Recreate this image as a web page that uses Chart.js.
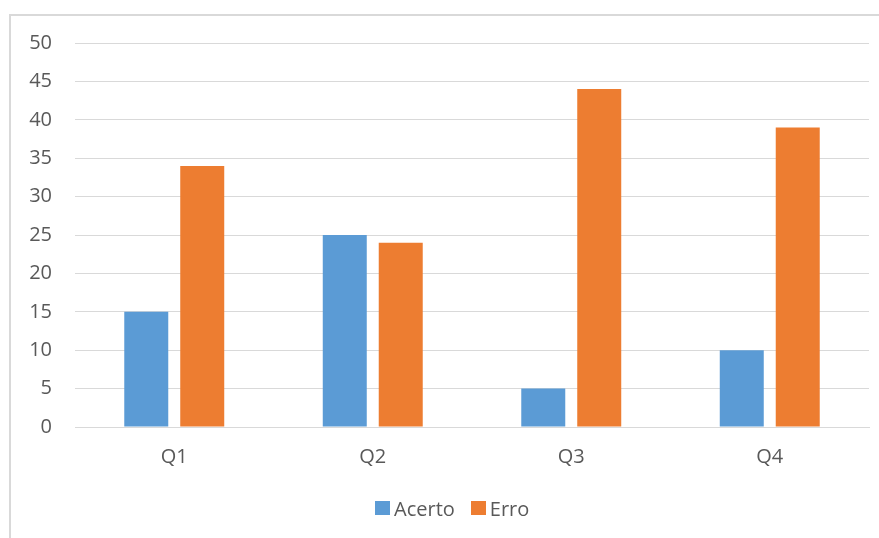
<!DOCTYPE html>
<html>
<head>
<meta charset="utf-8">
<script src="https://cdn.jsdelivr.net/npm/chart.js@4/dist/chart.umd.min.js"></script>
<style>
  html, body { margin: 0; padding: 0; background: #fff; }
  #wrap { position: relative; width: 879px; height: 538px; overflow: hidden; }
  #moldura {
    position: absolute; left: 9px; top: 14px; width: 900px; height: 600px;
    border-left: 2px solid #d9d9d9; border-top: 2px solid #d9d9d9;
  }
  canvas { position: absolute; left: 0; top: 0; }
  #legenda {
    position: absolute; left: 375px; top: 496px; height: 24px;
    display: flex; align-items: center;
    font-family: 'Open Sans', 'DejaVu Sans', sans-serif; font-size: 20px; color: #595959;
  }
  #legenda span.item { display: flex; align-items: center; margin-right: 16px; }
  #legenda span.caixa { display: inline-block; width: 15px; height: 14px; margin-right: 4px; }
</style>
</head>
<body>
<div id="wrap">
  <div id="moldura"></div>
  <canvas id="grafico" width="879" height="538"></canvas>
  <div id="legenda"></div>
</div>
<script>
const questoes = ["Q1", "Q2", "Q3", "Q4"];
const acertos = [15, 25, 5, 10];
const erros = [34, 24, 44, 39];
const series = ["Acerto", "Erro"];
const cores = ["#5b9bd5", "#ed7d31"];

const corTexto = "#595959";
const fonte = { family: "'Open Sans', 'DejaVu Sans', sans-serif", size: 20 };

const chart = new Chart(document.getElementById("grafico"), {
  type: "bar",
  data: {
    labels: questoes,
    datasets: [
      { label: series[0], data: acertos, backgroundColor: cores[0] },
      { label: series[1], data: erros, backgroundColor: cores[1] }
    ]
  },
  options: {
    responsive: false,
    animation: false,
    categoryPercentage: 0.564,
    barPercentage: 0.786,
    layout: { padding: { left: 10, right: 10, top: 43, bottom: 59 } },
    scales: {
      x: {
        grid: { display: false },
        border: { display: true, color: "#d9d9d9", width: 1 },
        ticks: { color: corTexto, font: fonte, padding: 10 }
      },
      y: {
        min: 0,
        max: 50,
        afterFit: (scale) => { scale.width = 65; },
        grid: { color: "#d9d9d9", drawTicks: false },
        border: { display: false },
        ticks: { stepSize: 5, color: corTexto, font: fonte, padding: 23 }
      }
    },
    plugins: {
      legend: { display: false },
      tooltip: { enabled: false }
    }
  }
});

// legenda em HTML, montada a partir dos datasets
const legenda = document.getElementById("legenda");
chart.data.datasets.forEach((ds) => {
  const item = document.createElement("span");
  item.className = "item";
  item.innerHTML = `<span class="caixa" style="background:${ds.backgroundColor}"></span>${ds.label}`;
  legenda.appendChild(item);
});
</script>
</body>
</html>
